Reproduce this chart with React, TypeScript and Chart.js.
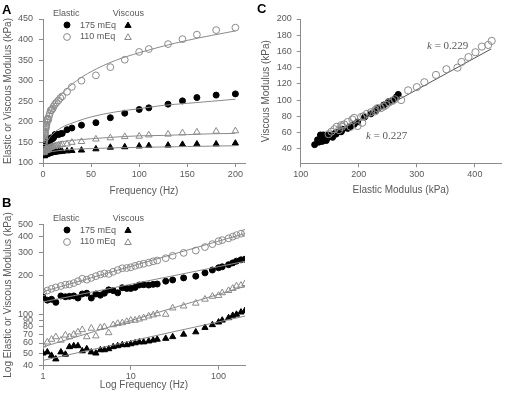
import React, { useEffect, useRef } from 'react';
import { Chart, registerables } from 'chart.js';

Chart.register(...registerables);

// ---------------- data ----------------
const freqHz = [1, 1.12, 1.25, 1.4, 1.6, 1.8, 2, 2.24, 2.5, 2.8, 3.15, 3.55, 4, 4.5, 5, 5.6, 6.3, 7.1, 8, 9, 10, 11.2, 12.5, 14, 16, 18, 20, 25, 30, 40, 55, 70, 85, 100, 110, 130, 145, 160, 180, 200];

// elastic modulus (kPa) – panels A, B and C
const elastic175 = [136, 129, 131, 124, 139, 137, 138, 139, 134, 144, 146, 134, 144, 141, 146, 155, 153, 147, 161, 159, 159, 162, 169, 170, 169, 171, 172, 181, 185, 192, 198, 210, 221, 230, 234, 243, 251, 259, 265, 268];
const elastic110 = [148, 153, 158, 162, 166, 170, 171, 175, 181, 189, 186, 192, 198, 204, 208, 206, 214, 221, 228, 229, 232, 238, 243, 247, 252, 258, 262, 273, 285, 300, 313, 333, 351, 370, 377, 389, 401, 412, 423, 429];

// viscous modulus (kPa) – panels B and C
const viscous175 = [50, 51, 48, 45, 51, 49, 56, 57, 57, 52, 54, 51, 50, 53, 53, 54, 56, 57, 58, 58, 59, 60, 61, 61, 62, 63, 64, 65, 67, 70, 73, 79, 83, 87, 90, 94, 98, 100, 104, 107];
const viscous110 = [58, 61, 64, 67, 63, 69, 67, 70, 73, 76, 67, 78, 68, 79, 80, 72, 83, 85, 86, 88, 90, 90, 92, 94, 97, 99, 101, 100, 112, 116, 122, 131, 138, 140, 147, 153, 159, 166, 168, 173];

// viscous markers as plotted in panel A
const viscousA175 = [118, 119, 118, 117, 120, 119, 121, 121, 122, 120, 121, 120, 121, 122, 122, 123, 123, 124, 124, 125, 125, 126, 126, 127, 127, 128, 128, 129, 130, 131, 134, 138, 139, 141, 142, 143, 145, 146, 146, 148];
const viscousA110 = [125, 127, 128, 129, 128, 130, 130, 131, 132, 133, 130, 134, 131, 135, 135, 133, 137, 137, 138, 139, 140, 140, 141, 142, 143, 144, 145, 146, 150, 152, 158, 161, 164, 165, 168, 170, 173, 175, 177, 178];

// fitted curves
const fitFreqA = [1, 2, 5, 10, 20, 35, 50, 75, 100, 125, 150, 175, 200];
const fitA_elastic110 = [150, 172, 206, 235, 269, 300, 322, 349, 368, 384, 398, 410, 421];
const fitA_elastic175 = [125, 137, 155, 170, 187, 201, 212, 224, 232, 240, 245, 250, 255];
const fitA_viscous110 = [128, 133, 140, 146, 152, 156, 159, 163, 166, 167, 169, 171, 172];
const fitA_viscous175 = [118, 121, 125, 128, 131, 134, 135, 137, 138, 139, 140, 141, 142];

const fitFreqB = [1, 200];
const fitB_elastic110 = [150, 424];
const fitB_elastic175 = [125, 258];
const fitB_viscous110 = [56, 165];
const fitB_viscous175 = [44, 97];

const fitC_elastic = [122, 428];
const fitC_viscous = [43, 163];

// tick labels
const ticksAx = [0, 50, 100, 150, 200];
const ticksAy = [100, 150, 200, 250, 300, 350, 400, 450];
const ticksBx = [1, 10, 100];
const ticksBy = [40, 50, 60, 70, 80, 90, 100, 200, 300, 400, 500];
const ticksCx = [100, 200, 300, 400];
const ticksCy = [40, 60, 80, 100, 120, 140, 160, 180, 200];

// ---------------- styling ----------------
const FONT = "'Liberation Sans', Arial, Helvetica, sans-serif";
const SERIF = "'Liberation Serif', 'Times New Roman', serif";
const AXIS = '#8c8c8c';
const TEXT = '#595959';
const OPEN = '#8a8a8a';
const FIT = '#8a8a8a';

const pts = (xs: number[], ys: number[]) => xs.map((x, i) => ({ x, y: ys[i] }));

function scale(o: any) {
  return {
    type: o.type,
    min: o.min,
    max: o.max,
    afterBuildTicks: (s: any) => {
      s.ticks = o.ticks.map((v: number) => ({ value: v }));
    },
    afterFit: (s: any) => {
      if (o.isX) s.height = o.size;
      else s.width = o.size;
    },
    grid: { display: true, drawOnChartArea: false, drawTicks: true, tickLength: 4, color: AXIS, lineWidth: 1 },
    border: { display: true, color: AXIS, width: 1 },
    ticks: {
      autoSkip: false,
      maxRotation: 0,
      minRotation: 0,
      padding: o.pad,
      color: TEXT,
      font: { family: FONT, size: 9 },
      callback: (v: any) => String(v),
    },
    title: { display: true, text: o.title, color: TEXT, font: { family: FONT, size: 10 }, padding: 0 },
  };
}

const filled = (shape: string, r: number) => ({
  pointStyle: shape, pointRadius: r, pointBackgroundColor: '#000', pointBorderColor: '#000', pointBorderWidth: 1, showLine: false,
});
const open = (shape: string, r: number) => ({
  pointStyle: shape, pointRadius: r, pointBackgroundColor: 'rgba(0,0,0,0)', pointBorderColor: OPEN, pointBorderWidth: 1, showLine: false,
});
const fit = (data: any[]) => ({
  data, showLine: true, pointRadius: 0, borderColor: FIT, borderWidth: 1, cubicInterpolationMode: 'monotone', fill: false,
});

const baseOptions = (padding: any, scales: any) => ({
  animation: false,
  responsive: false,
  maintainAspectRatio: false,
  devicePixelRatio: 1,
  layout: { padding },
  plugins: { legend: { display: false }, tooltip: { enabled: false } },
  events: [],
  scales,
});

function configA(): any {
  return {
    type: 'scatter',
    data: {
      datasets: [
        fit(pts(fitFreqA, fitA_elastic110)),
        fit(pts(fitFreqA, fitA_elastic175)),
        fit(pts(fitFreqA, fitA_viscous110)),
        fit(pts(fitFreqA, fitA_viscous175)),
        { data: pts(freqHz, elastic110), ...open('circle', 3.4) },
        { data: pts(freqHz, viscousA110), ...open('triangle', 3.8) },
        { data: pts(freqHz, elastic175), ...filled('circle', 3) },
        { data: pts(freqHz, viscousA175), ...filled('triangle', 3.6) },
      ],
    },
    options: baseOptions({ left: 2.3, right: 2, top: 19, bottom: 0 }, {
      x: scale({ type: 'linear', min: 0, max: 210, ticks: ticksAx, isX: true, size: 34, pad: 2, title: 'Frequency (Hz)' }),
      y: scale({ type: 'linear', min: 100, max: 450, ticks: ticksAy, isX: false, size: 40.7, pad: 6, title: 'Elastic or Viscous Modulus (kPa)' }),
    }),
  };
}

function configB(): any {
  return {
    type: 'scatter',
    data: {
      datasets: [
        fit(pts(fitFreqB, fitB_elastic110)),
        fit(pts(fitFreqB, fitB_elastic175)),
        fit(pts(fitFreqB, fitB_viscous110)),
        fit(pts(fitFreqB, fitB_viscous175)),
        { data: pts(freqHz, elastic110), ...open('circle', 3.4) },
        { data: pts(freqHz, viscous110), ...open('triangle', 3.8) },
        { data: pts(freqHz, elastic175), ...filled('circle', 3) },
        { data: pts(freqHz, viscous175), ...filled('triangle', 3.6) },
      ],
    },
    options: baseOptions({ left: 2.3, right: 3.4, top: 24.3, bottom: 0 }, {
      x: scale({ type: 'logarithmic', min: 1, max: 200, ticks: ticksBx, isX: true, size: 25.3, pad: 1, title: 'Log Frequency (Hz)' }),
      y: scale({ type: 'logarithmic', min: 40, max: 500, ticks: ticksBy, isX: false, size: 40.7, pad: 6, title: 'Log Elastic or Viscous Modulus (kPa)' }),
    }),
  };
}

function configC(): any {
  return {
    type: 'scatter',
    data: {
      datasets: [
        { data: pts(elastic110, viscous110), ...open('circle', 3.6) },
        { data: pts(elastic175, viscous175), ...filled('circle', 3) },
        { ...fit(pts(fitC_elastic, fitC_viscous)), borderColor: '#555', cubicInterpolationMode: 'default' },
      ],
    },
    options: baseOptions({ left: 4.7, right: 2.7, top: 19, bottom: 0 }, {
      x: scale({ type: 'linear', min: 100, max: 445, ticks: ticksCx, isX: true, size: 32.7, pad: 2, title: 'Elastic Modulus (kPa)' }),
      y: scale({ type: 'linear', min: 22, max: 200, ticks: ticksCy, isX: false, size: 40, pad: 5, title: 'Viscous Modulus (kPa)' }),
    }),
  };
}

function ChartCanvas({ make, left, top, width, height }: any) {
  const ref = useRef<HTMLCanvasElement | null>(null);
  useEffect(() => {
    const chart = new Chart(ref.current as HTMLCanvasElement, make());
    return () => chart.destroy();
  }, []);
  return (
    <canvas
      ref={ref}
      width={width}
      height={height}
      style={{ position: 'absolute', left, top, width, height }}
    />
  );
}

function Label({ text, left, cy, size = 9, bold = false, family = FONT, color = TEXT }: any) {
  return (
    <div
      style={{
        position: 'absolute',
        left,
        top: cy - size / 2,
        fontFamily: family,
        fontSize: size,
        lineHeight: `${size}px`,
        fontWeight: bold ? 700 : 400,
        color,
        whiteSpace: 'nowrap',
      }}
    >
      {text}
    </div>
  );
}

function Marker({ kind, cx, cy }: any) {
  const s = 10;
  let shape: any;
  if (kind === 'fc') shape = <circle cx={5} cy={5} r={3} fill="#000" stroke="#000" strokeWidth={1} />;
  else if (kind === 'oc') shape = <circle cx={5} cy={5} r={3.4} fill="none" stroke={OPEN} strokeWidth={1} />;
  else {
    const r = kind === 'ft' ? 3.6 : 3.8;
    const p = [0, 1, 2].map((k) => {
      const a = (k * 2 * Math.PI) / 3;
      return `${5 + Math.sin(a) * r},${5 - Math.cos(a) * r + 0.6}`;
    }).join(' ');
    shape = kind === 'ft'
      ? <polygon points={p} fill="#000" stroke="#000" strokeWidth={1} />
      : <polygon points={p} fill="none" stroke={OPEN} strokeWidth={1} />;
  }
  return (
    <svg width={s} height={s} style={{ position: 'absolute', left: cx - 5, top: cy - 5 }}>
      {shape}
    </svg>
  );
}

function LegendBlock({ top }: any) {
  return (
    <>
      <Label text="Elastic" left={53} cy={top} />
      <Label text="Viscous" left={112.7} cy={top} />
      <Marker kind="fc" cx={66.7} cy={top + 12} />
      <Label text="175 mEq" left={80} cy={top + 12} />
      <Marker kind="ft" cx={128} cy={top + 12} />
      <Marker kind="oc" cx={66.7} cy={top + 23.5} />
      <Label text="110 mEq" left={80} cy={top + 23.5} />
      <Marker kind="ot" cx={128} cy={top + 23.5} />
    </>
  );
}

export default function App() {
  return (
    <div style={{ position: 'absolute', left: 0, top: 0, width: 506, height: 401, background: '#fff', overflow: 'hidden' }}>
      <ChartCanvas make={configA} left={0} top={0} width={250} height={197} />
      <ChartCanvas make={configB} left={0} top={200} width={250} height={191} />
      <ChartCanvas make={configC} left={256} top={0} width={250} height={196} />

      <Label text="A" left={2} cy={9} size={13} bold color="#000" />
      <Label text="B" left={2} cy={202.5} size={13} bold color="#000" />
      <Label text="C" left={257} cy={8.5} size={13} bold color="#000" />

      <LegendBlock top={13.3} />
      <LegendBlock top={218} />

      <div style={{ position: 'absolute', left: 427, top: 39.5, fontFamily: SERIF, fontSize: 11, lineHeight: '11px', color: TEXT, whiteSpace: 'nowrap' }}>
        <i>k</i> = 0.229
      </div>
      <div style={{ position: 'absolute', left: 366, top: 129.5, fontFamily: SERIF, fontSize: 11, lineHeight: '11px', color: TEXT, whiteSpace: 'nowrap' }}>
        <i>k</i> = 0.227
      </div>
    </div>
  );
}
